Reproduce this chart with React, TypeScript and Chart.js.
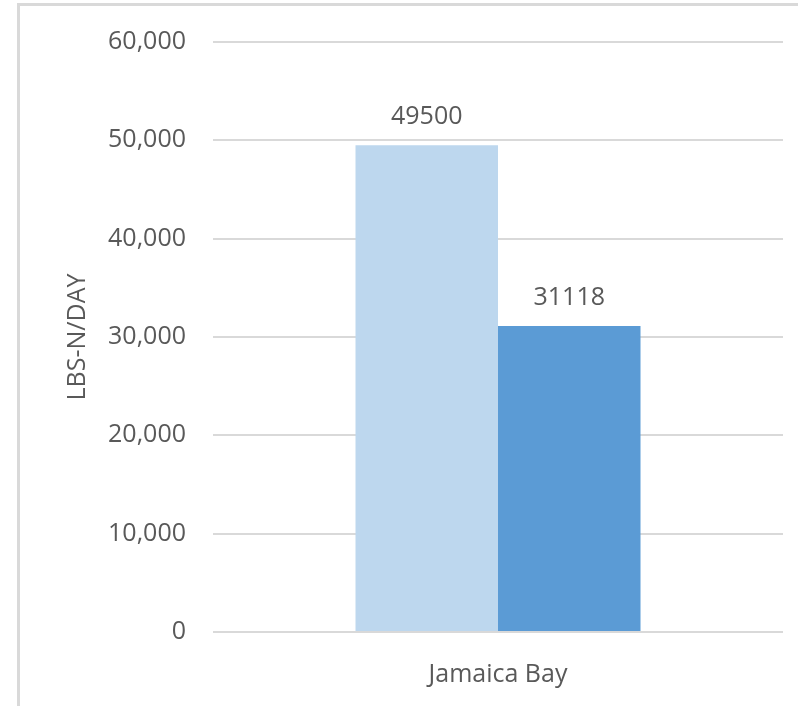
import React, { useEffect, useRef } from "react";
import { Chart, registerables } from "chart.js";

Chart.register(...registerables);

const categories = ["Jamaica Bay"];
const seriesLabels = ["Series 1", "Series 2"];
const seriesA = [49500];
const seriesB = [31118];
const yTicks = [0, 10000, 20000, 30000, 40000, 50000, 60000];
const yTitle = "LBS-N/DAY";

const FONT = "'Open Sans', sans-serif";
const TEXT = "#595959";

const dataLabels = {
  id: "dataLabels",
  afterDatasetsDraw(chart: any) {
    const ctx = chart.ctx;
    ctx.save();
    ctx.font = `25px ${FONT}`;
    ctx.fillStyle = TEXT;
    ctx.textAlign = "center";
    ctx.textBaseline = "alphabetic";
    chart.data.datasets.forEach((ds: any, i: number) => {
      const meta = chart.getDatasetMeta(i);
      meta.data.forEach((bar: any, j: number) => {
        ctx.fillText(String(ds.data[j]), bar.x, bar.y - 21);
      });
    });
    ctx.restore();
  },
};

export default function App() {
  const ref = useRef<HTMLCanvasElement>(null);
  useEffect(() => {
    if (!ref.current) return;
    const chart = new Chart(ref.current, {
      type: "bar",
      data: {
        labels: categories,
        datasets: [
          { label: seriesLabels[0], data: seriesA, backgroundColor: "#BDD7EE", borderWidth: 0 },
          { label: seriesLabels[1], data: seriesB, backgroundColor: "#5B9BD5", borderWidth: 0 },
        ],
      },
      options: {
        animation: false,
        responsive: false,
        maintainAspectRatio: false,
        layout: { padding: { left: 63, right: 15, top: 38, bottom: 0 } },
        datasets: { bar: { categoryPercentage: 0.5, barPercentage: 1 } },
        plugins: { legend: { display: false }, tooltip: { enabled: false } },
        scales: {
          x: {
            grid: { display: false },
            border: { display: false },
            ticks: { color: TEXT, font: { family: FONT, size: 25 }, padding: 20 },
            afterFit: (s: any) => { s.height = 74; },
          },
          y: {
            min: 0,
            max: 60000,
            afterBuildTicks: (s: any) => { s.ticks = yTicks.map((v) => ({ value: v })); },
            grid: { color: "#d9d9d9", lineWidth: 2, drawTicks: false },
            border: { display: false },
            ticks: {
              color: TEXT,
              font: { family: FONT, size: 25 },
              padding: 27,
              callback: (v: any) => Number(v).toLocaleString("en-US"),
            },
            title: {
              display: true,
              text: yTitle,
              color: TEXT,
              font: { family: FONT, size: 25 },
              padding: 0,
            },
            afterFit: (s: any) => { s.width = 150; },
          },
        },
      },
      plugins: [dataLabels],
    });
    return () => chart.destroy();
  }, []);
  return (
    <div style={{ position: "fixed", left: 0, top: 0, width: 798, height: 706, background: "#fff", overflow: "hidden" }}>
      <div style={{ position: "absolute", left: 17, top: 3, width: 800, height: 720, borderTop: "3px solid #d9d9d9", borderLeft: "3px solid #d9d9d9" }} />
      <canvas ref={ref} width={798} height={706} style={{ position: "absolute", left: 0, top: 0 }} />
    </div>
  );
}
